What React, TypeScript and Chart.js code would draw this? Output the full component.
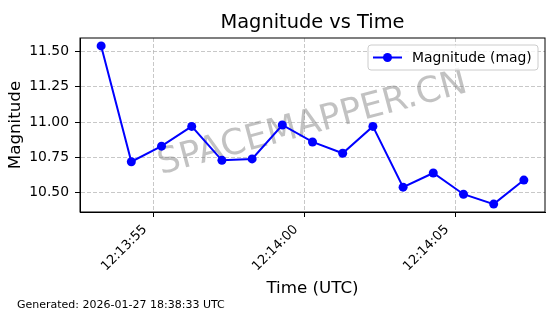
import React, { useEffect, useRef } from "react";
import { Chart, registerables } from "chart.js";

Chart.register(...registerables);

// ---- data ----
const times = [
  "12:13:53.25", "12:13:54.25", "12:13:55.25", "12:13:56.25", "12:13:57.25",
  "12:13:58.25", "12:13:59.25", "12:14:00.25", "12:14:01.25", "12:14:02.25",
  "12:14:03.25", "12:14:04.25", "12:14:05.25", "12:14:06.25", "12:14:07.25",
];
const magnitudes = [
  11.54, 10.72, 10.83, 10.97, 10.73,
  10.74, 10.98, 10.86, 10.78, 10.97,
  10.54, 10.64, 10.49, 10.42, 10.59,
];
const xTickLabels = ["12:13:55", "12:14:00", "12:14:05"];
const yTickValues = [10.5, 10.75, 11.0, 11.25, 11.5];
const seriesLabel = "Magnitude (mag)";
const titleText = "Magnitude vs Time";
const xAxisTitle = "Time (UTC)";
const yAxisTitle = "Magnitude";
const footerText = "Generated: 2026-01-27 18:38:33 UTC";
const watermarkText = "SPACEMAPPER.CN";

const FONT = "'DejaVu Sans', sans-serif";

function toSec(t: string): number {
  const [h, m, s] = t.split(":");
  return Number(h) * 3600 + Number(m) * 60 + parseFloat(s);
}
function fmtSec(v: number): string {
  const r = Math.round(v);
  const h = Math.floor(r / 3600);
  const m = Math.floor((r % 3600) / 60);
  const s = r % 60;
  const p = (n: number) => String(n).padStart(2, "0");
  return `${p(h)}:${p(m)}:${p(s)}`;
}

export default function App() {
  const ref = useRef<HTMLCanvasElement | null>(null);

  useEffect(() => {
    const canvas = ref.current;
    if (!canvas) return;
    const xs = times.map(toSec);
    const points = xs.map((x, i) => ({ x, y: magnitudes[i] }));
    const xMinD = Math.min(...xs), xMaxD = Math.max(...xs);
    const yMinD = Math.min(...magnitudes), yMaxD = Math.max(...magnitudes);
    const xPad = (xMaxD - xMinD) * 0.05;
    const yPad = (yMaxD - yMinD) * 0.05;
    const xTickValues = xTickLabels.map(toSec);

    const decor = {
      id: "decor",
      beforeDatasetsDraw(chart: any) {
        const { ctx, chartArea: a } = chart;
        ctx.save();
        ctx.translate((a.left + a.right) / 2, (a.top + a.bottom) / 2 - 1);
        ctx.rotate((-15 * Math.PI) / 180);
        ctx.font = `35.5px ${FONT}`;
        ctx.fillStyle = "rgba(128,128,128,0.48)";
        ctx.textAlign = "center";
        ctx.textBaseline = "middle";
        ctx.fillText(watermarkText, 0, 0);
        ctx.restore();
      },
      afterDraw(chart: any) {
        const { ctx, chartArea: a } = chart;
        ctx.save();
        // frame
        ctx.strokeStyle = "#000";
        ctx.lineWidth = 1;
        ctx.strokeRect(a.left, a.top, a.right - a.left, a.bottom - a.top);

        // legend
        const lx = a.right - 7 - 170, ly = a.top + 7, lw = 170, lh = 25;
        ctx.beginPath();
        const r = 3;
        ctx.moveTo(lx + r, ly);
        ctx.lineTo(lx + lw - r, ly);
        ctx.quadraticCurveTo(lx + lw, ly, lx + lw, ly + r);
        ctx.lineTo(lx + lw, ly + lh - r);
        ctx.quadraticCurveTo(lx + lw, ly + lh, lx + lw - r, ly + lh);
        ctx.lineTo(lx + r, ly + lh);
        ctx.quadraticCurveTo(lx, ly + lh, lx, ly + lh - r);
        ctx.lineTo(lx, ly + r);
        ctx.quadraticCurveTo(lx, ly, lx + r, ly);
        ctx.closePath();
        ctx.fillStyle = "rgba(255,255,255,0.8)";
        ctx.fill();
        ctx.strokeStyle = "#cccccc";
        ctx.stroke();
        const cy = ly + lh / 2;
        ctx.strokeStyle = "#0000ff";
        ctx.lineWidth = 2;
        ctx.beginPath();
        ctx.moveTo(lx + 5, cy);
        ctx.lineTo(lx + 34, cy);
        ctx.stroke();
        ctx.fillStyle = "#0000ff";
        ctx.beginPath();
        ctx.arc(lx + 19.5, cy, 4.5, 0, Math.PI * 2);
        ctx.fill();
        ctx.fillStyle = "#000";
        ctx.font = `13.9px ${FONT}`;
        ctx.textAlign = "left";
        ctx.textBaseline = "middle";
        ctx.fillText(seriesLabel, lx + 44, cy + 1);

        // title
        const cx = (a.left + a.right) / 2;
        ctx.font = `19.4px ${FONT}`;
        ctx.textAlign = "center";
        ctx.textBaseline = "middle";
        ctx.fillText(titleText, cx, 23);

        // axis titles
        ctx.font = `16.7px ${FONT}`;
        ctx.fillText(xAxisTitle, cx, 289);
        ctx.save();
        ctx.translate(16, (a.top + a.bottom) / 2);
        ctx.rotate(-Math.PI / 2);
        ctx.fillText(yAxisTitle, 0, 0);
        ctx.restore();

        // footer
        ctx.font = `11px ${FONT}`;
        ctx.textAlign = "left";
        ctx.fillText(footerText, 17, 305);
        ctx.restore();
      },
    };

    const chart = new Chart(canvas, {
      type: "line",
      data: {
        datasets: [
          {
            label: seriesLabel,
            data: points,
            borderColor: "#0000ff",
            backgroundColor: "#0000ff",
            borderWidth: 2,
            pointRadius: 4.5,
            pointBorderWidth: 0,
            pointBackgroundColor: "#0000ff",
            tension: 0,
          },
        ],
      },
      options: {
        animation: false,
        responsive: false,
        devicePixelRatio: 1,
        layout: { padding: { top: 38, right: 15, left: 0, bottom: 0 } },
        plugins: {
          legend: { display: false },
          title: { display: false },
          tooltip: { enabled: false },
        },
        scales: {
          x: {
            type: "linear",
            min: xMinD - xPad,
            max: xMaxD + xPad,
            afterFit: (s: any) => { s.height = 102; },
            afterBuildTicks: (s: any) => { s.ticks = xTickValues.map((v) => ({ value: v })); },
            ticks: {
              callback: (v: any) => fmtSec(Number(v)),
              minRotation: 45,
              maxRotation: 45,
              autoSkip: false,
              color: "#000",
              font: { family: FONT, size: 13 },
              padding: 5,
              labelOffset: -9,
            },
            grid: {
              color: "rgba(176,176,176,0.7)",
              lineWidth: 1,
              tickColor: "#000",
              tickLength: 5,
              tickWidth: 1,
              drawTicks: true,
            },
            border: { display: true, color: "#000", width: 1, dash: [4, 2] },
          },
          y: {
            type: "linear",
            min: yMinD - yPad,
            max: yMaxD + yPad,
            afterFit: (s: any) => { s.width = 80; },
            afterBuildTicks: (s: any) => { s.ticks = yTickValues.map((v) => ({ value: v })); },
            ticks: {
              callback: (v: any) => Number(v).toFixed(2),
              color: "#000",
              font: { family: FONT, size: 13.9 },
              padding: 6,
            },
            grid: {
              color: "rgba(176,176,176,0.7)",
              lineWidth: 1,
              tickColor: "#000",
              tickLength: 5,
              tickWidth: 1,
              drawTicks: true,
            },
            border: { display: true, color: "#000", width: 1, dash: [4, 2] },
          },
        },
      } as any,
      plugins: [decor],
    });

    return () => chart.destroy();
  }, []);

  return (
    <div style={{ position: "absolute", left: 0, top: 0, width: 560, height: 314, background: "#fff" }}>
      <canvas ref={ref} width={560} height={314} style={{ display: "block", width: 560, height: 314 }} />
    </div>
  );
}
